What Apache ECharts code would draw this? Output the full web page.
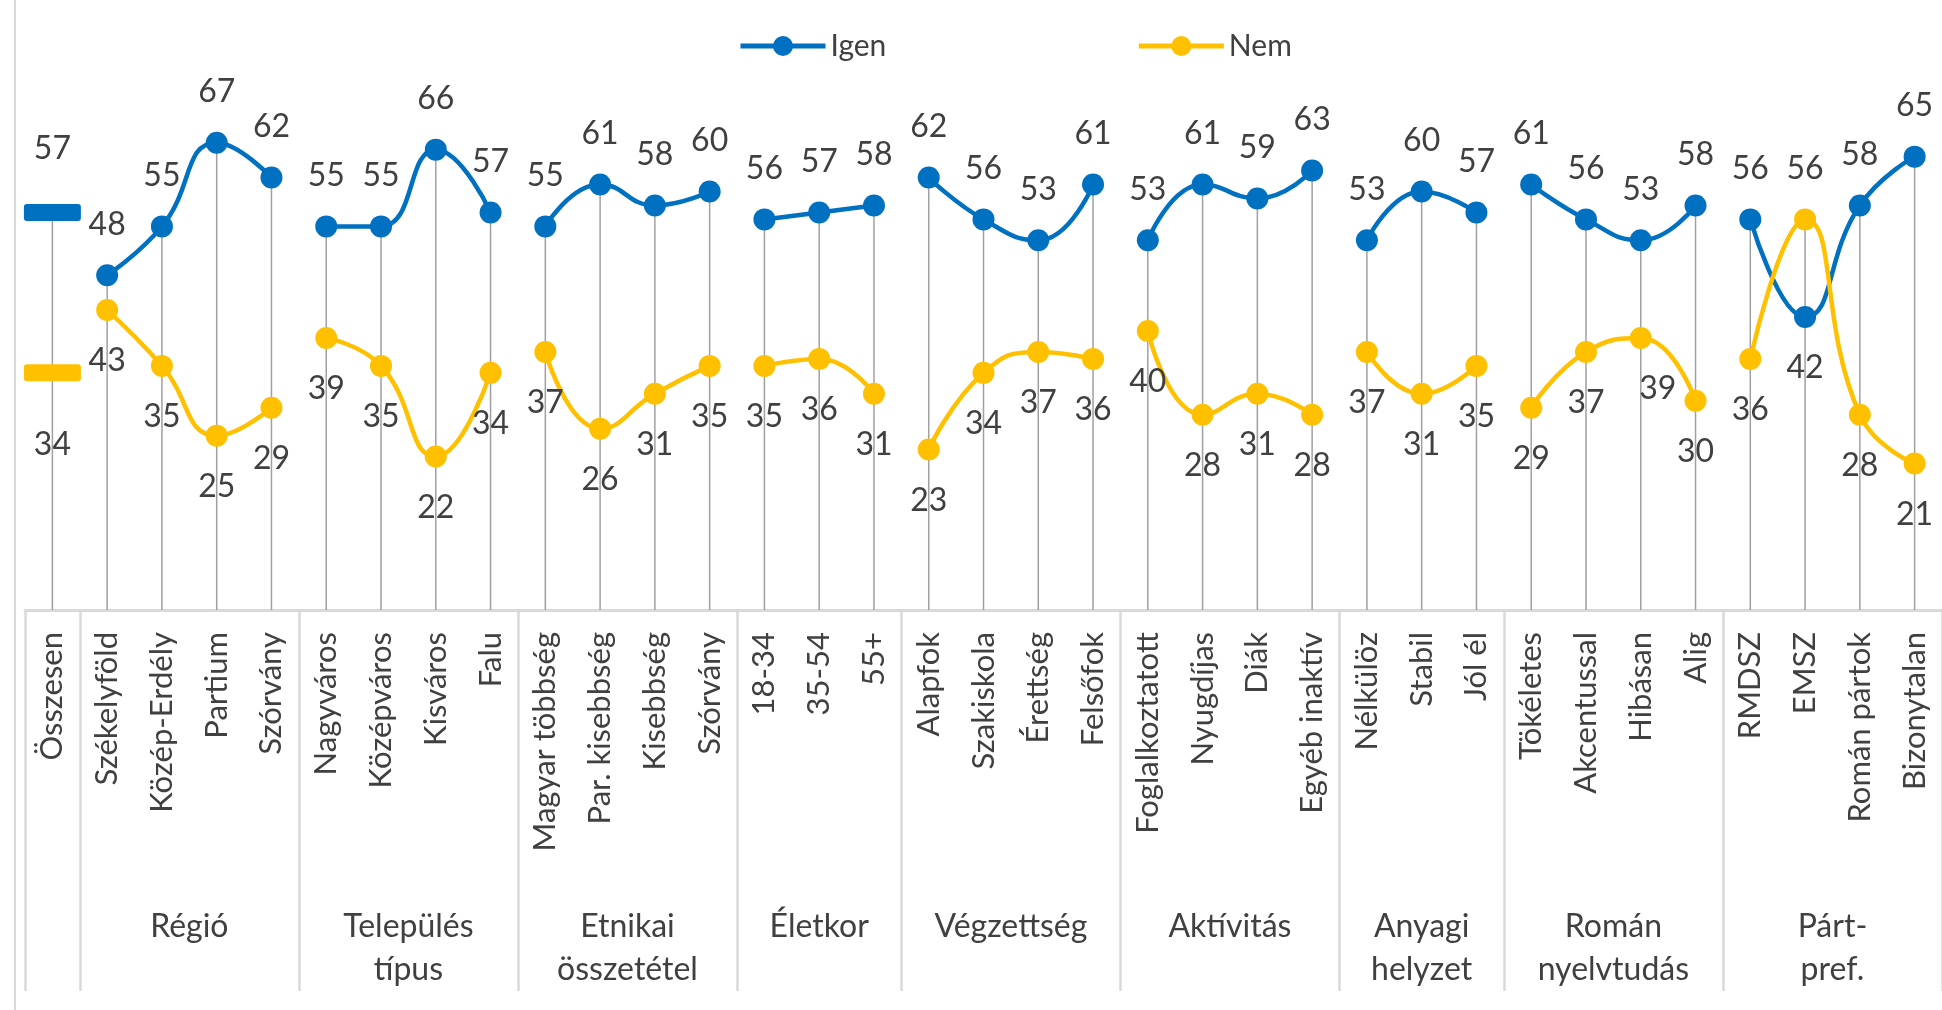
<!DOCTYPE html>
<html>
<head>
<meta charset="utf-8">
<title>Igen / Nem</title>
<script src="https://cdn.jsdelivr.net/npm/echarts@6/dist/echarts.min.js"></script>
<style>
  html, body { margin: 0; padding: 0; background: #fff; }
  #main { width: 1942px; height: 1010px; }
</style>
</head>
<body>
<div id="main"></div>
<script>
const categories = [
  'Összesen',
  'Székelyföld', 'Közép-Erdély', 'Partium', 'Szórvány',
  'Nagyváros', 'Középváros', 'Kisváros', 'Falu',
  'Magyar többség', 'Par. kisebbség', 'Kisebbség', 'Szórvány',
  '18-34', '35-54', '55+',
  'Alapfok', 'Szakiskola', 'Érettség', 'Felsőfok',
  'Foglalkoztatott', 'Nyugdíjas', 'Diák', 'Egyéb inaktív',
  'Nélkülöz', 'Stabil', 'Jól él',
  'Tökéletes', 'Akcentussal', 'Hibásan', 'Alig',
  'RMDSZ', 'EMSZ', 'Román pártok', 'Bizonytalan'
];
const groupNames = ['', 'Régió', 'Település\ntípus', 'Etnikai\nösszetétel', 'Életkor',
  'Végzettség', 'Aktívitás', 'Anyagi\nhelyzet', 'Román\nnyelvtudás', 'Párt-\npref.'];
const groupSizes = [1, 4, 4, 4, 3, 4, 4, 3, 4, 4];

const igen = [57, 48, 55, 67, 62, 55, 55, 66, 57, 55, 61, 58, 60, 56, 57, 58,
  62, 56, 53, 61, 53, 61, 59, 63, 53, 60, 57, 61, 56, 53, 58, 56, 42, 58, 65];
const nem = [34, 43, 35, 25, 29, 39, 35, 22, 34, 37, 26, 31, 35, 35, 36, 31,
  23, 34, 37, 36, 40, 28, 31, 28, 37, 31, 35, 29, 37, 39, 30, 36, 56, 28, 21];

const BLUE = '#0070C0';
const YELLOW = '#FFC000';
const TEXT = '#404040';
const FONT = 'Lato';
const DASH = 'path://M3,0H54A3,3 0 0 1 57,3V14A3,3 0 0 1 54,17H3A3,3 0 0 1 0,14V3A3,3 0 0 1 3,0Z';

// group edges and middles on a 0..n scale (same width as the category axis)
const bounds = [0];
groupSizes.forEach(n => bounds.push(bounds[bounds.length - 1] + n));
const centres = groupSizes.map((n, i) => bounds[i] + n / 2);

function lineSeries(name, values, color, pos, g) {
  const start = bounds[g], end = bounds[g + 1];
  const flip = pos === 'top' ? 'bottom' : 'top';
  return {
    name: name,
    type: 'line',
    smooth: 0.5,
    symbol: 'circle',
    symbolSize: 22,
    z: 3,
    lineStyle: { color: color, width: 4.5 },
    itemStyle: { color: color },
    label: { show: true, position: pos, distance: 24, fontFamily: FONT, fontSize: 32, color: TEXT },
    data: values.map((v, i) => {
      if (i < start || i >= end) return null;
      if (categories[i] === 'EMSZ') return { value: v, label: { position: flip } };
      if (categories[i] === 'Hibásan' && name === 'Nem') return { value: v, label: { offset: [17, 0] } };
      return v;
    })
  };
}

const seriesList = [];
for (let g = 1; g < groupSizes.length; g++) {
  seriesList.push(lineSeries('Igen', igen, BLUE, 'top', g));
  seriesList.push(lineSeries('Nem', nem, YELLOW, 'bottom', g));
}

// "Összesen" is drawn as a flat dash, like the Excel chart
function totalSeries(name, values, color, pos, dist) {
  return {
    name: name,
    type: 'line',
    symbol: DASH,
    symbolSize: [57, 17],
    z: 3,
    lineStyle: { width: 0 },
    itemStyle: { color: color },
    label: { show: true, position: pos, distance: dist, fontFamily: FONT, fontSize: 32, color: TEXT },
    data: values.map((v, i) => (i < bounds[1] ? v : null))
  };
}
seriesList.push(totalSeries('Igen', igen, BLUE, 'top', 39));
seriesList.push(totalSeries('Nem', nem, YELLOW, 'bottom', 47));

// drop lines from the higher point down to the axis
seriesList.push({
  name: 'drop',
  type: 'bar',
  barWidth: 1.5,
  silent: true,
  z: 1,
  itemStyle: { color: '#a0a0a0' },
  data: igen.map((v, i) => Math.max(v, nem[i]))
});

const option = {
  animation: false,
  backgroundColor: '#fff',
  legend: {
    data: ['Igen', 'Nem'],
    left: 733,
    top: 26,
    itemWidth: 85,
    itemHeight: 25,
    itemGap: 250,
    lineStyle: { width: 5 },
    textStyle: { fontFamily: FONT, fontSize: 30, color: TEXT }
  },
  grid: { left: 25, top: 52, width: 1918, height: 558 },
  xAxis: [
    {
      type: 'category',
      data: categories,
      boundaryGap: true,
      axisLine: { show: true, lineStyle: { color: '#d9d9d9', width: 3 } },
      axisTick: { show: false },
      axisLabel: { interval: 0, rotate: 90, margin: 22, fontFamily: FONT, fontSize: 31, color: TEXT }
    },
    {
      type: 'value',
      min: 0,
      max: categories.length,
      position: 'bottom',
      axisLine: { show: false },
      splitLine: { show: false },
      axisTick: { show: true, customValues: bounds, length: 381, lineStyle: { color: '#d9d9d9', width: 2.5 } },
      axisLabel: {
        show: true,
        customValues: centres,
        margin: 295,
        fontFamily: FONT,
        fontSize: 32,
        lineHeight: 43,
        color: TEXT,
        formatter: v => groupNames[centres.indexOf(v)] || ''
      }
    }
  ],
  yAxis: { type: 'value', min: 0, max: 80, show: false },
  graphic: [{
    type: 'line',
    shape: { x1: 15, y1: 0, x2: 15, y2: 1010 },
    style: { stroke: '#d9d9d9', lineWidth: 2 }
  }],
  series: seriesList
};

const myChart = echarts.init(document.getElementById('main'));
myChart.setOption(option);
</script>
</body>
</html>
